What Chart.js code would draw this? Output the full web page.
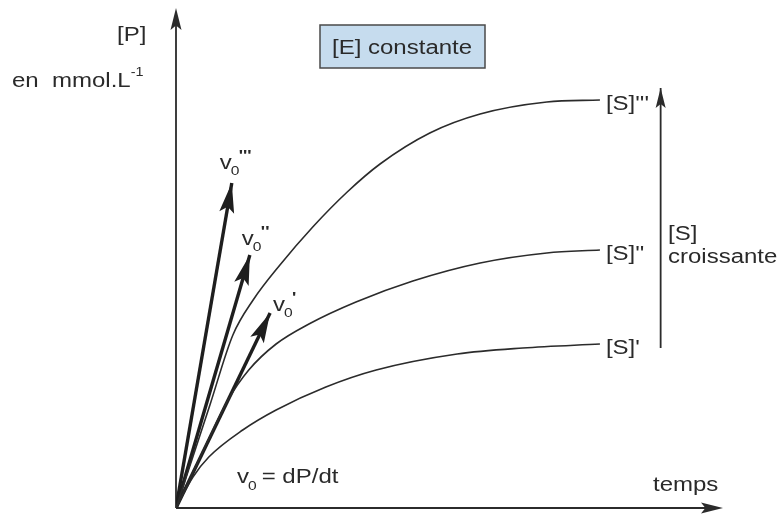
<!DOCTYPE html>
<html>
<head>
<meta charset="utf-8">
<script src="https://cdn.jsdelivr.net/npm/chart.js@4/dist/chart.umd.min.js"></script>
<style>
  html, body { margin: 0; padding: 0; background: #fff; }
  #graphe { display: block; }
</style>
</head>
<body>
<canvas id="graphe" width="780" height="516"></canvas>
<script>
// courbes [P] = f(temps) pour trois concentrations de substrat
const tempsS3 = [0, 6.2, 10.4, 14.1, 19, 25, 31.3, 37.3, 46.4, 55.6, 67.8, 77.5];
const produitS3 = [0, 20.6, 34.6, 41.6, 48.6, 56.2, 63.2, 68.8, 75, 78.8, 81.2, 81.6];

const tempsS2 = [0, 6.6, 9.5, 13.3, 18.3, 24.3, 32.9, 43.3, 55.6, 67.8, 77.5];
const produitS2 = [0, 15.2, 21.6, 27.6, 32.8, 36.8, 41.2, 45.4, 49, 51, 51.6];

const tempsS1 = [0, 3.1, 6, 12.2, 18.3, 27.4, 36.6, 51.4, 63.4, 77.5];
const produitS1 = [0, 6.2, 10.2, 15.6, 19.6, 24.2, 27.6, 30.8, 32, 32.8];

const nomsCourbes = ["[S]'''", "[S]''", "[S]'"];

// vitesses initiales (tangentes a l'origine) : extremites des fleches
const tangenteX = [10.2, 13.5, 17.2];
const tangenteY = [65, 50.6, 39];
const primesV0 = ["'''", "''", "'"];

// fleche [S] croissante
const flecheSX = [88.6, 88.6];
const flecheSY = [32, 84];

const axeMax = 100;
const couleurTrait = '#2b2b2b';
const police = '"Liberation Sans", Arial, sans-serif';

function pts(xs, ys) {
    return xs.map((x, i) => ({ x: x, y: ys[i] }));
}

const datasets = [];
[[tempsS3, produitS3], [tempsS2, produitS2], [tempsS1, produitS1]].forEach((c, i) => {
    datasets.push({
        label: nomsCourbes[i],
        data: pts(c[0], c[1]),
        borderColor: couleurTrait,
        borderWidth: 1.6,
        pointRadius: 0,
        cubicInterpolationMode: 'monotone',
        fill: false,
        etiquette: true
    });
});
tangenteX.forEach((x, i) => {
    datasets.push({
        label: 'v0' + primesV0[i],
        data: [{ x: 0, y: 0 }, { x: x, y: tangenteY[i] }],
        borderColor: '#1e1e1e',
        borderWidth: 3.4,
        pointRadius: 0,
        fleche: { long: 30, demi: 7.5 }
    });
});
datasets.push({
    label: '[S] croissante',
    data: pts(flecheSX, flecheSY),
    borderColor: couleurTrait,
    borderWidth: 1.8,
    pointRadius: 0,
    fleche: { long: 20, demi: 5 }
});

// texte un peu etire horizontalement comme sur l'original
function texte(ctx, t, x, y, taille, gras) {
    ctx.save();
    ctx.font = (gras ? 'bold ' : '') + taille + 'px ' + police;
    ctx.translate(x, y);
    ctx.scale(1.2, 1);
    ctx.fillText(t, 0, 0);
    const w = ctx.measureText(t).width * 1.2;
    ctx.restore();
    return w;
}

function pointe(ctx, x0, y0, x1, y1, long, demi) {
    const a = Math.atan2(y1 - y0, x1 - x0);
    ctx.beginPath();
    ctx.moveTo(x1, y1);
    ctx.lineTo(x1 - long * Math.cos(a) + demi * Math.sin(a), y1 - long * Math.sin(a) - demi * Math.cos(a));
    ctx.lineTo(x1 - long * 0.8 * Math.cos(a), y1 - long * 0.8 * Math.sin(a));
    ctx.lineTo(x1 - long * Math.cos(a) - demi * Math.sin(a), y1 - long * Math.sin(a) + demi * Math.cos(a));
    ctx.closePath();
    ctx.fill();
}

const decor = {
    id: 'decor',
    beforeDatasetsDraw(chart) {
        const ctx = chart.ctx;
        const xs = chart.scales.x, ys = chart.scales.y;
        const x0 = xs.getPixelForValue(0), y0 = ys.getPixelForValue(0);
        const xm = xs.getPixelForValue(axeMax), ym = ys.getPixelForValue(axeMax);
        ctx.save();
        ctx.strokeStyle = couleurTrait;
        ctx.fillStyle = couleurTrait;
        ctx.lineWidth = 1.8;
        ctx.beginPath();
        ctx.moveTo(x0, y0); ctx.lineTo(x0, ym + 10);
        ctx.moveTo(x0, y0); ctx.lineTo(xm - 10, y0);
        ctx.stroke();
        pointe(ctx, x0, y0, x0, ym, 22, 5.5);
        pointe(ctx, x0, y0, xm, y0, 22, 5.5);

        // encadre [E] constante
        ctx.fillStyle = '#c6dcee';
        ctx.fillRect(320, 25, 165, 43);
        ctx.strokeStyle = '#4a4a4a';
        ctx.lineWidth = 1.5;
        ctx.strokeRect(320, 25, 165, 43);
        ctx.restore();
    },
    afterDatasetsDraw(chart) {
        const ctx = chart.ctx;
        const xs = chart.scales.x, ys = chart.scales.y;
        ctx.save();
        chart.data.datasets.forEach((ds, i) => {
            const meta = chart.getDatasetMeta(i);
            const n = meta.data.length;
            const a = meta.data[n - 2], b = meta.data[n - 1];
            if (ds.fleche) {
                ctx.fillStyle = ds.borderColor;
                pointe(ctx, a.x, a.y, b.x, b.y, ds.fleche.long, ds.fleche.demi);
            }
            if (ds.etiquette) {
                ctx.fillStyle = '#2a2a2a';
                texte(ctx, ds.label, b.x + 6, b.y + 10, 20);
            }
        });

        ctx.fillStyle = '#2a2a2a';
        // etiquettes v0
        tangenteX.forEach((x, i) => {
            const px = xs.getPixelForValue(x), py = ys.getPixelForValue(tangenteY[i]);
            const lx = px + [-12, -8, 3][i], ly = py + [-14, -10, -2][i];
            const w = texte(ctx, 'v', lx, ly, 20);
            texte(ctx, '0', lx + w - 1, ly + 6, 13);
            texte(ctx, primesV0[i], lx + w + 7, ly - 9, 15, true);
        });

        texte(ctx, '[E] constante', 332, 54, 20);
        texte(ctx, '[P]', 117, 41, 20);
        const w1 = texte(ctx, 'en  mmol.L', 12, 87, 20);
        texte(ctx, '-1', 12 + w1, 76, 12);
        texte(ctx, '[S]', 668, 240, 20);
        texte(ctx, 'croissante', 668, 263, 20);
        texte(ctx, 'temps', 653, 491, 20);
        const wv = texte(ctx, 'v', 237, 483, 20);
        texte(ctx, '0', 237 + wv - 1, 490, 13);
        texte(ctx, ' = dP/dt', 237 + wv + 6, 483, 20);
        ctx.restore();
    }
};

new Chart(document.getElementById('graphe'), {
    type: 'line',
    data: { datasets: datasets },
    options: {
        responsive: false,
        animation: false,
        devicePixelRatio: 1,
        layout: { padding: { left: 176, right: 57, top: 8, bottom: 8 } },
        scales: {
            x: { type: 'linear', min: 0, max: axeMax, display: false },
            y: { type: 'linear', min: 0, max: axeMax, display: false }
        },
        plugins: {
            legend: { display: false },
            tooltip: { enabled: false }
        }
    },
    plugins: [decor]
});
</script>
</body>
</html>
